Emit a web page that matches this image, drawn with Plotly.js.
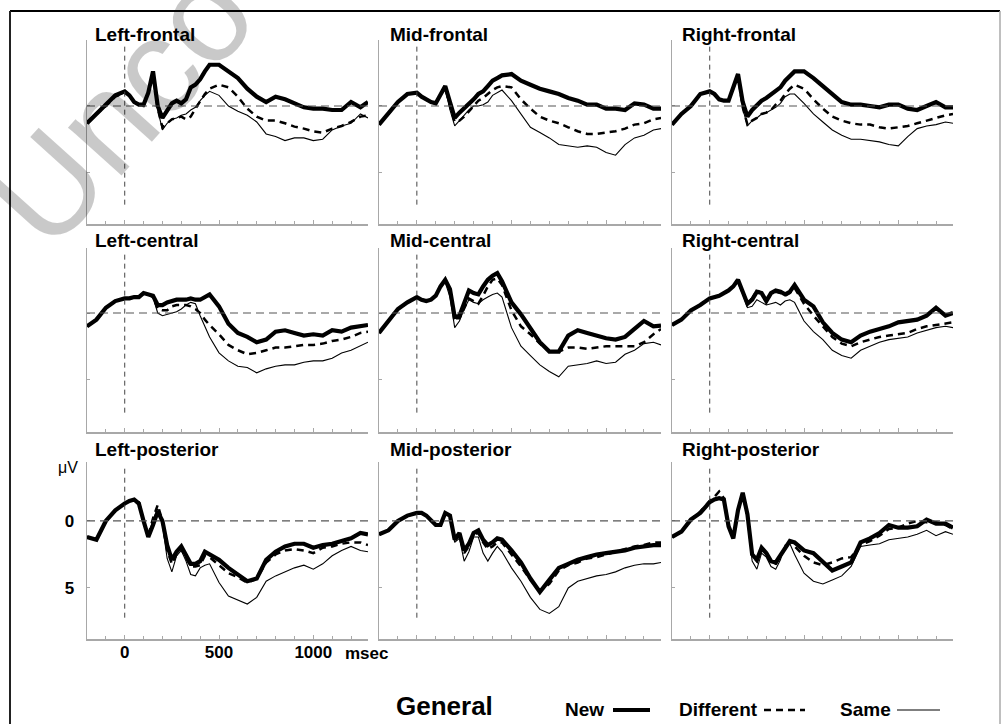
<!DOCTYPE html>
<html><head><meta charset="utf-8">
<script src="https://cdn.plot.ly/plotly-3.0.1.min.js"></script>
<style>html,body{margin:0;padding:0;background:#fff;}#chart{width:1003px;height:724px;}</style>
</head><body><div id="chart"></div>
<script>
// time points (ms)
const times = [-200,-150,-100,-50,0,25,50,75,100,125,150,175,200,225,250,275,300,325,350,375,400,425,450,500,550,600,650,700,750,800,850,900,950,1000,1050,1100,1150,1200,1250,1290];

const panelTitles = ['Left-frontal','Mid-frontal','Right-frontal','Left-central','Mid-central','Right-central','Left-posterior','Mid-posterior','Right-posterior'];
const conditionNames = ['New','Different','Same'];
const xTickLabels = ['0','500','1000'];
const yTickLabels = ['0','5'];

// amplitudes in microvolts (positive plotted downward)
const newLF = [1.3,0.6,0.0,-0.8,-1.1,-0.8,-0.3,-0.1,-0.1,-1.0,-2.6,0.0,0.9,0.3,-0.2,-0.4,-0.2,-0.5,-1.4,-1.6,-2.0,-2.6,-3.1,-3.1,-2.6,-2.1,-1.3,-0.7,-0.3,-0.7,-0.5,-0.2,0.1,0.2,0.2,0.3,0.3,-0.3,0.1,-0.3];
const difLF = [1.3,0.6,0.0,-0.7,-1.0,-0.8,-0.3,-0.1,0.0,-1.0,-2.4,0.2,1.6,1.3,1.0,0.9,0.8,1.0,0.8,0.2,-0.4,-0.9,-1.3,-1.6,-1.4,-0.7,0.2,0.8,1.1,1.1,1.3,1.55,1.7,1.9,2.0,1.7,1.5,1.2,0.8,0.7];
const samLF = [1.3,0.6,0.0,-0.7,-1.0,-0.7,-0.2,-0.1,0.0,-1.0,-2.4,0.3,1.8,1.3,1.0,0.9,0.7,0.6,0.3,0.1,-0.4,-0.8,-1.1,-0.8,0.0,0.4,0.7,1.2,2.1,2.3,2.6,2.4,2.4,2.6,2.5,1.8,1.5,1.3,0.6,0.9];

const newMF = [1.4,0.6,-0.3,-0.9,-1.0,-0.7,-0.5,-0.3,-0.2,-0.9,-1.5,-0.3,0.9,0.5,0.2,-0.2,-0.5,-0.9,-1.1,-1.5,-1.9,-2.1,-2.3,-2.4,-1.9,-1.6,-1.3,-1.1,-0.9,-0.6,-0.4,-0.1,-0.1,0.2,0.2,0.3,-0.2,-0.1,0.2,0.2];
const difMF = [1.4,0.6,-0.3,-0.9,-1.0,-0.7,-0.5,-0.3,-0.2,-0.8,-1.4,0.0,1.2,1.1,0.8,0.4,0.0,-0.4,-0.6,-0.9,-1.2,-1.4,-1.5,-1.4,-0.5,0.2,0.8,1.1,1.3,1.6,1.9,2.1,2.1,2.0,1.9,1.7,1.4,1.3,1.0,0.9];
const samMF = [1.4,0.6,-0.3,-0.9,-1.0,-0.7,-0.5,-0.3,-0.1,-0.8,-1.3,0.3,1.5,1.1,0.7,0.3,0.0,0.0,-0.1,-0.3,-0.8,-1.0,-1.2,-0.4,0.6,1.6,2.0,2.4,2.9,3.0,3.1,3.0,3.1,3.5,3.7,2.9,2.4,2.2,1.8,1.7];

const newRF = [1.4,0.6,0.0,-0.9,-1.1,-0.9,-0.5,-0.4,-0.4,-1.4,-2.4,-0.3,0.8,0.3,-0.1,-0.4,-0.6,-0.9,-1.1,-1.4,-1.9,-2.3,-2.6,-2.6,-2.1,-1.5,-0.9,-0.3,-0.1,-0.1,0.0,0.1,-0.1,-0.1,0.2,0.3,0.0,-0.3,0.1,0.1];
const difRF = [1.4,0.6,0.0,-0.9,-1.1,-0.9,-0.5,-0.4,-0.4,-1.3,-2.3,0.1,1.4,1.1,0.9,0.6,0.5,0.3,-0.1,-0.4,-0.9,-1.3,-1.6,-1.3,-0.5,0.2,0.8,1.1,1.3,1.4,1.4,1.6,1.7,1.6,1.5,1.3,1.1,0.9,0.7,0.6];
const samRF = [1.4,0.6,0.0,-0.9,-1.1,-0.9,-0.5,-0.4,-0.4,-1.3,-2.3,0.2,1.5,1.1,0.9,0.6,0.5,0.3,0.1,-0.2,-0.7,-0.9,-0.9,-0.2,0.6,1.2,1.8,2.2,2.5,2.5,2.6,2.7,2.9,3.0,2.3,1.7,1.5,1.4,1.2,1.3];

const newLC = [1.0,0.5,-0.4,-0.9,-1.1,-1.1,-1.2,-1.2,-1.5,-1.4,-1.3,-0.6,-0.6,-0.8,-0.9,-1.0,-1.0,-1.0,-1.1,-1.0,-1.0,-1.2,-1.4,-0.5,0.8,1.5,1.8,2.2,2.0,1.4,1.3,1.5,1.7,1.6,1.7,1.3,1.4,1.1,1.0,0.9];
const difLC = [1.0,0.5,-0.4,-0.9,-1.1,-1.1,-1.2,-1.2,-1.5,-1.4,-1.2,-0.3,-0.2,-0.2,-0.5,-0.6,-0.6,-0.6,-0.5,-0.3,0.0,0.5,0.9,1.6,2.4,2.8,3.1,3.0,2.8,2.6,2.6,2.5,2.4,2.4,2.3,2.1,2.0,1.8,1.5,1.4];
const samLC = [1.0,0.5,-0.4,-0.9,-1.1,-1.1,-1.2,-1.2,-1.5,-1.4,-1.2,0.0,0.2,0.1,0.0,-0.1,-0.3,-0.6,-0.8,-0.7,0.2,1.0,1.8,3.0,3.6,4.0,4.1,4.5,4.2,4.0,3.9,3.9,3.7,3.6,3.6,3.4,3.0,2.8,2.5,2.2];

const newMC = [1.5,0.6,-0.3,-0.8,-1.2,-1.0,-0.9,-1.0,-1.3,-2.0,-2.5,-1.8,0.3,0.2,-0.7,-1.7,-1.5,-1.4,-2.0,-2.5,-2.8,-3.0,-2.4,-0.8,0.1,1.2,2.2,2.9,2.9,1.7,1.3,1.5,1.7,1.9,2.0,1.8,1.2,0.6,1.0,0.95];
const difMC = [1.5,0.6,-0.3,-0.8,-1.2,-1.0,-0.9,-1.0,-1.3,-2.0,-2.4,-1.7,0.4,0.4,-0.4,-1.1,-0.9,-0.7,-1.3,-2.0,-2.5,-2.6,-2.1,-0.2,1.0,1.6,2.3,2.9,2.9,2.6,2.6,2.7,2.6,2.5,2.5,2.5,2.5,2.2,1.6,1.2];
const samMC = [1.5,0.6,-0.3,-0.8,-1.2,-1.0,-0.9,-1.0,-1.3,-2.0,-2.3,-1.2,1.1,0.6,-0.3,-1.0,-0.8,-0.7,-1.0,-1.2,-1.4,-1.5,-1.2,1.1,2.5,3.2,3.9,4.4,4.8,4.0,3.9,3.8,3.6,3.8,3.7,3.1,2.8,2.3,2.2,2.4];

const newRC = [0.9,0.5,-0.2,-0.6,-1.1,-1.2,-1.3,-1.5,-1.7,-2.0,-2.5,-1.6,-0.7,-1.0,-1.6,-1.5,-0.9,-1.5,-1.7,-1.6,-1.4,-1.6,-2.1,-1.0,-0.5,0.7,1.5,2.0,2.2,1.7,1.4,1.2,1.0,0.7,0.6,0.5,0.2,-0.4,0.2,0.0];
const difRC = [0.9,0.5,-0.2,-0.6,-1.1,-1.2,-1.3,-1.5,-1.7,-2.0,-2.4,-1.5,-0.8,-1.1,-1.7,-1.5,-1.0,-1.4,-1.6,-1.5,-1.3,-1.5,-1.9,-0.7,0.2,1.0,1.8,2.3,2.5,2.2,2.0,1.8,1.7,1.6,1.5,1.2,1.0,0.9,0.8,0.7];
const samRC = [0.9,0.5,-0.2,-0.6,-1.1,-1.2,-1.3,-1.5,-1.7,-2.0,-2.4,-1.4,-0.4,-0.5,-1.0,-0.8,-0.6,-0.7,-0.8,-0.6,-0.9,-1.0,-0.8,0.6,1.4,2.0,2.8,3.2,3.4,2.8,2.5,2.2,2.0,1.9,1.8,1.5,1.3,1.1,1.0,1.1];

const newLP = [1.2,1.4,0.0,-0.8,-1.3,-1.5,-1.6,-1.3,0.0,1.2,0.3,-0.7,0.0,1.8,2.9,2.3,1.9,2.5,3.2,3.2,3.0,2.3,2.5,2.9,3.5,4.0,4.5,4.3,2.9,2.3,1.9,1.7,1.7,2.0,1.8,1.7,1.5,1.3,0.9,1.0];
const difLP = [1.2,1.4,0.0,-0.8,-1.3,-1.5,-1.6,-1.4,0.1,1.1,-0.2,-1.2,0.0,2.2,3.2,2.5,2.1,2.8,3.4,3.4,3.3,2.6,2.7,3.3,3.9,4.2,4.6,4.3,3.1,2.5,2.2,2.1,2.2,2.4,2.0,1.9,1.7,1.6,1.6,1.8];
const samLP = [1.2,1.4,0.0,-0.8,-1.3,-1.5,-1.5,-1.3,0.0,1.1,-0.1,-0.9,0.3,2.8,3.8,2.6,2.2,3.0,4.0,4.1,3.5,3.3,3.2,4.6,5.6,5.9,6.2,5.7,4.5,4.1,3.8,3.5,3.3,3.6,3.2,2.6,2.2,1.9,2.2,2.3];

const newMP = [1.0,0.7,0.0,-0.4,-0.6,-0.6,-0.4,0.0,0.3,0.3,-0.6,-0.4,1.4,0.9,2.2,1.7,0.9,0.7,1.4,1.8,1.6,1.3,1.4,2.2,3.1,4.3,5.3,4.4,3.5,3.2,2.9,2.7,2.5,2.4,2.3,2.2,2.0,1.9,1.8,1.8];
const difMP = [1.0,0.7,0.0,-0.4,-0.6,-0.6,-0.4,0.0,0.3,0.3,-0.6,-0.4,1.5,1.0,2.4,1.9,1.0,0.9,1.6,2.1,1.9,1.6,1.6,2.5,3.4,4.4,5.2,4.7,3.7,3.3,3.1,2.8,2.7,2.5,2.3,2.1,1.9,1.8,1.6,1.6];
const samMP = [1.0,0.7,0.0,-0.4,-0.6,-0.6,-0.4,0.0,0.3,0.3,-0.6,-0.4,1.6,1.3,3.0,2.3,1.2,1.2,2.4,3.0,2.4,1.9,2.3,3.5,4.5,5.7,6.6,6.9,6.4,5.0,4.5,4.3,4.1,4.0,3.8,3.5,3.3,3.2,3.2,3.1];

const newRP = [1.2,0.8,-0.1,-0.6,-1.4,-1.6,-1.7,-1.6,0.4,1.3,-0.8,-2.1,-0.5,2.5,2.9,2.0,2.4,3.0,3.1,2.6,2.0,1.5,1.6,2.2,2.4,3.0,3.7,3.4,3.1,1.6,1.3,0.9,0.3,0.5,0.5,0.4,-0.1,0.2,0.2,0.5];
const difRP = [1.2,0.8,-0.1,-0.7,-1.5,-1.8,-2.2,-1.7,0.3,1.3,-0.8,-2.0,-0.4,2.6,3.0,2.1,2.5,3.1,3.2,2.6,2.0,1.5,1.9,2.6,3.1,3.3,3.1,2.8,2.7,1.8,1.5,1.1,0.6,0.5,0.2,0.0,0.1,0.1,0.3,0.6];
const samRP = [1.2,0.8,-0.1,-0.6,-1.4,-1.6,-1.7,-1.5,0.4,1.3,-0.7,-1.9,-0.2,3.0,3.6,2.4,2.7,3.4,3.6,2.9,1.8,1.7,2.5,3.9,4.5,4.7,4.4,4.1,3.4,1.9,1.8,1.7,1.4,1.3,1.2,1.0,0.7,1.1,0.8,1.0];

const newSeries = [newLF,newMF,newRF,newLC,newMC,newRC,newLP,newMP,newRP];
const difSeries = [difLF,difMF,difRF,difLC,difMC,difRC,difLP,difMP,difRP];
const samSeries = [samLF,samMF,samRF,samLC,samMC,samRC,samLP,samMP,samRP];

// ---------- layout geometry ----------
const W = 1003, H = 724;
const FONT = 'Arial, "Liberation Sans", Helvetica, sans-serif';
const colPx = [[87,368],[379,661],[672,953]];
const rowPx = [[40,224],[248,432],[462,639]];
const rowRange = [[8.87,-4.96],[8.95,-4.89],[8.81,-4.4]];
const titleXPx = [93,388,680];
const titleYPx = [34,240,449];
const px = v => v / W;
const py = v => 1 - v / H;

const traces = [];
const layout = {
  width: W, height: H, autosize: false,
  margin: {l:0,r:0,t:0,b:0,pad:0},
  paper_bgcolor: '#fff', plot_bgcolor: 'rgba(0,0,0,0)',
  showlegend: false,
  font: {family: FONT, color: '#000'},
  shapes: [], annotations: []
};

// watermark (first, so it sits under later texts)
layout.annotations.push({
  xref:'paper', yref:'paper', x: px(121), y: py(106), xanchor:'center', yanchor:'middle',
  text:'Unco', showarrow:false, textangle:-48,
  font:{family: FONT, size:136, color:'rgba(0,0,0,0.21)'}
});

const axisCol = '#a8a8a8';
for (let i = 0; i < 9; i++) {
  const r = Math.floor(i/3), c = i % 3;
  const s = i === 0 ? '' : String(i+1);
  const showLab = (r === 2 && c === 0);
  layout['xaxis'+s] = {
    domain: [px(colPx[c][0]), px(colPx[c][1])],
    range: [-200, 1290], anchor: 'y'+s,
    showline: true, linecolor: axisCol, linewidth: 1.5,
    showgrid: false, zeroline: false,
    ticks: 'inside', ticklen: 4, tickcolor: axisCol, tickwidth: 1,
    tickmode: 'array', tickvals: [0,500,1000], ticktext: xTickLabels,
    minor: {tickmode:'linear', tick0: 0, dtick: 100, ticks: 'inside', ticklen: 3, tickcolor: axisCol, showgrid: false},
    showticklabels: showLab, ticklabelstandoff: -3,
    tickfont: {family: FONT, size: 17, color: '#000', weight: 'bold'},
    fixedrange: true
  };
  layout['yaxis'+s] = {
    domain: [py(rowPx[r][1]), py(rowPx[r][0])],
    range: rowRange[r], anchor: 'x'+s,
    showline: true, linecolor: axisCol, linewidth: 1.5,
    showgrid: false, zeroline: false,
    ticks: 'inside', ticklen: 3, tickcolor: axisCol, tickwidth: 1,
    tickmode: 'array', tickvals: [0,5], ticktext: yTickLabels,
    showticklabels: showLab, ticklabelstandoff: 8,
    tickfont: {family: FONT, size: 17, color: '#000', weight: 'bold'},
    fixedrange: true
  };
  // reference lines
  layout.shapes.push({type:'line', xref:'x'+s, yref:'y'+s, x0:-200, x1:1290, y0:0, y1:0,
    line:{color:'#555', width:1.2, dash:'8px,5px'}});
  layout.shapes.push({type:'line', xref:'x'+s, yref:'y'+s, x0:0, x1:0, y0:rowRange[r][1]+0.5, y1:7.5,
    line:{color:'#444', width:1, dash:'5px,4px'}});
  // traces: Same (thin), Different (dashed), New (thick)
  traces.push({x: times, y: samSeries[i], xaxis:'x'+s, yaxis:'y'+s, mode:'lines', name: conditionNames[2],
    line:{color:'#000', width:1.1}, hoverinfo:'skip'});
  traces.push({x: times, y: difSeries[i], xaxis:'x'+s, yaxis:'y'+s, mode:'lines', name: conditionNames[1],
    line:{color:'#000', width:2.5, dash:'7px,5px'}, hoverinfo:'skip'});
  traces.push({x: times, y: newSeries[i], xaxis:'x'+s, yaxis:'y'+s, mode:'lines', name: conditionNames[0],
    line:{color:'#000', width:4.2}, hoverinfo:'skip'});
  // panel title
  layout.annotations.push({xref:'paper', yref:'paper', x: px(titleXPx[c]), y: py(titleYPx[r]),
    xanchor:'left', yanchor:'middle', showarrow:false, text: panelTitles[i],
    font:{family: FONT, size: 19, color:'#000', weight:'bold'}});
}

// axis unit labels
layout.annotations.push({xref:'paper', yref:'paper', x: px(68), y: py(467), xanchor:'center', yanchor:'middle',
  showarrow:false, text:'\u03bcV', font:{family: FONT, size: 16, color:'#000'}});
layout.annotations.push({xref:'paper', yref:'paper', x: px(343), y: py(653), xanchor:'left', yanchor:'middle',
  showarrow:false, text:'msec', font:{family: FONT, size: 17, color:'#000', weight:'bold'}});

// legend row
layout.annotations.push({xref:'paper', yref:'paper', x: px(444), y: py(706), xanchor:'center', yanchor:'middle',
  showarrow:false, text:'General', font:{family: FONT, size: 26, color:'#000', weight:'bold'}});
const legendTextX = [563, 677, 838];
const legendLineX = [[613,650],[764,805],[897,940]];
const legendStyles = [{width:4}, {width:2.4, dash:'7px,5px'}, {width:1.1}];
for (let k = 0; k < 3; k++) {
  layout.annotations.push({xref:'paper', yref:'paper', x: px(legendTextX[k]), y: py(709), xanchor:'left', yanchor:'middle',
    showarrow:false, text: conditionNames[k], font:{family: FONT, size: 19, color:'#000', weight:'bold'}});
  layout.shapes.push({type:'line', xref:'paper', yref:'paper', x0: px(legendLineX[k][0]), x1: px(legendLineX[k][1]),
    y0: py(710), y1: py(710), line: Object.assign({color:'#000'}, legendStyles[k])});
}

// figure frame
layout.shapes.push({type:'line', xref:'paper', yref:'paper', x0: px(10), x1: px(1000), y0: py(11), y1: py(11), line:{color:'#000', width:2}});
layout.shapes.push({type:'line', xref:'paper', yref:'paper', x0: px(10), x1: px(10), y0: py(11), y1: py(730), line:{color:'#222', width:2}});
layout.shapes.push({type:'line', xref:'paper', yref:'paper', x0: px(1000), x1: px(1000), y0: py(11), y1: py(730), line:{color:'#aaa', width:1.5}});

Plotly.newPlot('chart', traces, layout, {staticPlot:true, displayModeBar:false});
</script></body></html>
